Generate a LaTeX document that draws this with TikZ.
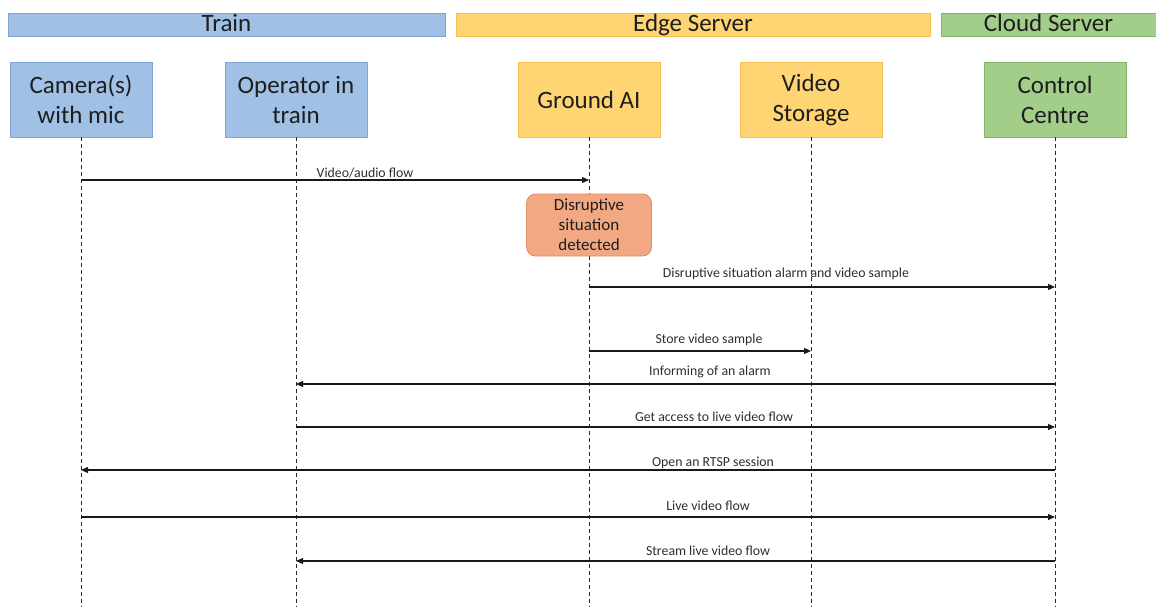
\documentclass[tikz,border=0pt]{standalone}
\usepackage{fontspec}
\setmainfont{Carlito}
\usetikzlibrary{arrows.meta}
\definecolor{trainFill}{RGB}{160,192,230}
\definecolor{trainLine}{RGB}{128,164,212}
\definecolor{edgeFill}{RGB}{255,213,115}
\definecolor{edgeLine}{RGB}{245,192,80}
\definecolor{cloudFill}{RGB}{163,206,138}
\definecolor{cloudLine}{RGB}{128,180,108}
\definecolor{alertFill}{RGB}{243,168,132}
\definecolor{alertLine}{RGB}{228,140,100}
\definecolor{ink}{RGB}{30,30,30}
\definecolor{msgInk}{RGB}{45,45,45}
\tikzset{
  band/.style={minimum height=23pt, inner sep=0pt, text height=18pt, text depth=4pt,
    font=\fontsize{25}{28}\selectfont, text=ink, line width=0.8pt},
  actor/.style={minimum width=142pt, minimum height=75pt, inner sep=0pt, align=center,
    font=\fontsize{25}{30}\selectfont, text=ink, line width=0.8pt},
  lifeline/.style={draw=black!85, line width=1pt, dash pattern=on 4pt off 3pt},
  msg/.style={draw=black!90, line width=1.2pt, -{Triangle[length=7pt,width=6pt]}},
  msglabel/.style={font=\fontsize{13.8}{15}\selectfont, text=msgInk, inner sep=1pt},
  alert/.style={draw=alertLine, fill=alertFill, rounded corners=9pt, minimum width=125pt,
    minimum height=62pt, align=center, font=\fontsize{17}{20}\selectfont, text=ink, line width=0.8pt}
}
\begin{document}
\begin{tikzpicture}[x=1pt, y=-1pt]
\useasboundingbox (0,0) rectangle (1156,610);

% group bands
\node[band, draw=trainLine, fill=trainFill, minimum width=437pt] (train) at (226.5,24.5) {Train};
\node[band, draw=edgeLine, fill=edgeFill, minimum width=474pt] (edge) at (693,25) {Edge Server};
\node[band, draw=cloudLine, fill=cloudFill, minimum width=215pt] (cloud) at (1048.5,25) {Cloud Server};

% participants
\node[actor, draw=trainLine, fill=trainFill] (cam) at (81,99.5) {Camera(s)\\with mic};
\node[actor, draw=trainLine, fill=trainFill] (op) at (296,99.5) {Operator in\\train};
\node[actor, draw=edgeLine, fill=edgeFill] (gai) at (589,99.5) {Ground AI};
\node[actor, draw=edgeLine, fill=edgeFill] (vs) at (811,99.5) {Video\\Storage};
\node[actor, draw=cloudLine, fill=cloudFill] (cc) at (1055,99.5) {Control\\Centre};

% lifeline ends
\coordinate (bottom) at (0,607);
\foreach \p in {cam,op,gai,vs,cc}
  \draw[lifeline] (\p.south) -- (\p.south |- bottom);

% detection step
\node[alert] (det) at (gai.south |- 0,225) {Disruptive\\situation\\detected};

% message rows
\coordinate (r1) at (0,180);
\coordinate (r2) at (0,287);
\coordinate (r3) at (0,351);
\coordinate (r4) at (0,384);
\coordinate (r5) at (0,427);
\coordinate (r6) at (0,470);
\coordinate (r7) at (0,517);
\coordinate (r8) at (0,561);

\draw[msg] (cam.south |- r1) -- (gai.south |- r1);
\node[msglabel, anchor=south] at (365,179) {Video/audio flow};

\draw[msg] (gai.south |- r2) -- (cc.south |- r2);
\node[msglabel, anchor=south] at (786,281) {Disruptive situation alarm and video sample};

\draw[msg] (gai.south |- r3) -- (vs.south |- r3);
\node[msglabel, anchor=south] at (709,347) {Store video sample};

\draw[msg] (cc.south |- r4) -- (op.south |- r4);
\node[msglabel, anchor=south] at (710,379) {Informing of an alarm};

\draw[msg] (op.south |- r5) -- (cc.south |- r5);
\node[msglabel, anchor=south] at (714,423) {Get access to live video flow};

\draw[msg] (cc.south |- r6) -- (cam.south |- r6);
\node[msglabel, anchor=south] at (713,470) {Open an RTSP session};

\draw[msg] (cam.south |- r7) -- (cc.south |- r7);
\node[msglabel, anchor=south] at (708,512) {Live video flow};

\draw[msg] (cc.south |- r8) -- (op.south |- r8);
\node[msglabel, anchor=south] at (708,557) {Stream live video flow};
\end{tikzpicture}
\end{document}
